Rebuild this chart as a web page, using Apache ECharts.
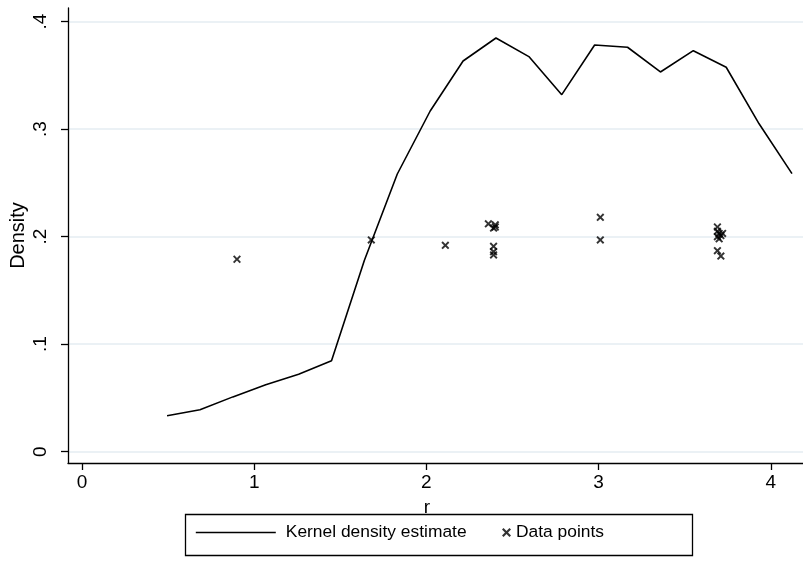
<!DOCTYPE html>
<html>
<head>
<meta charset="utf-8">
<script src="https://cdn.jsdelivr.net/npm/echarts@6/dist/echarts.min.js"></script>
<style>
html,body{margin:0;padding:0;background:#fff;}
#chart{width:803px;height:573px;}
</style>
</head>
<body>
<div id="chart"></div>
<script>
// Kernel density estimate (r, density)
const kdeX = [0.494, 0.685, 0.876, 1.067, 1.258, 1.449, 1.640, 1.831, 2.022, 2.213, 2.404, 2.595, 2.786, 2.977, 3.168, 3.359, 3.550, 3.741, 3.932, 4.123];
const kdeY = [0.0335, 0.0391, 0.051, 0.0623, 0.072, 0.0847, 0.178, 0.2583, 0.3169, 0.3634, 0.3848, 0.3675, 0.3321, 0.3783, 0.3762, 0.3532, 0.3730, 0.3576, 0.305, 0.2586];
// Data points
const pointsX = [0.90, 1.68, 2.11, 2.36, 2.39, 2.40, 2.40, 2.39, 2.39, 2.39, 3.01, 3.01, 3.69, 3.69, 3.70, 3.69, 3.71, 3.70, 3.69, 3.71, 3.72];
const pointsY = [0.179, 0.197, 0.192, 0.212, 0.208, 0.211, 0.209, 0.191, 0.186, 0.183, 0.218, 0.197, 0.209, 0.205, 0.203, 0.200, 0.201, 0.198, 0.187, 0.182, 0.203];
// Ticks
const xTicks = [0, 1, 2, 3, 4];
const xTickLabels = ['0', '1', '2', '3', '4'];
const yTicks = [0, 0.1, 0.2, 0.3, 0.4];
const yTickLabels = ['0', '.1', '.2', '.3', '.4'];
const seriesNames = ['Kernel density estimate', 'Data points'];

const FONT = '"Liberation Sans", Arial, sans-serif';
const xSym = 'path://M0,1.7L1.7,0L5,3.3L8.3,0L10,1.7L6.7,5L10,8.3L8.3,10L5,6.7L1.7,10L0,8.3L3.3,5Z';

const chart = echarts.init(document.getElementById('chart'), null, {renderer: 'canvas'});
chart.setOption({
  backgroundColor: '#ffffff',
  animation: false,
  textStyle: {fontFamily: FONT, color: '#000'},
  grid: {left: 68, top: 8, right: 0, bottom: 110, containLabel: false, outerBoundsMode: 'none'},
  xAxis: {
    type: 'value',
    min: -0.0813, max: 4.187,
    name: 'r', nameLocation: 'middle', nameGap: 35, nameMoveOverlap: false,
    nameTextStyle: {fontFamily: FONT, fontSize: 19, color: '#000', padding: [0, 17, 0, 0]},
    axisLine: {show: true, onZero: false, lineStyle: {color: '#000', width: 1.3}},
    axisTick: {show: true, length: 7, customValues: xTicks, lineStyle: {color: '#000', width: 1.3}},
    axisLabel: {show: true, customValues: xTicks, margin: 10, fontFamily: FONT, fontSize: 19, color: '#000',
      formatter: v => xTickLabels[xTicks.indexOf(v)] ?? ''},
    splitLine: {show: false}
  },
  yAxis: {
    type: 'value',
    min: -0.0105, max: 0.4127,
    name: 'Density', nameLocation: 'middle', nameGap: 40, nameRotate: 90, nameMoveOverlap: false,
    nameTextStyle: {fontFamily: FONT, fontSize: 20, color: '#000'},
    axisLine: {show: true, onZero: false, lineStyle: {color: '#000', width: 1.3}},
    axisTick: {show: true, length: 7, customValues: yTicks, lineStyle: {color: '#000', width: 1.3}},
    axisLabel: {show: true, customValues: yTicks, rotate: 90, margin: 18, fontFamily: FONT, fontSize: 19, color: '#000',
      formatter: v => { const i = yTicks.findIndex(t => Math.abs(t - v) < 1e-9); return i >= 0 ? yTickLabels[i] : ''; }},
    splitLine: {show: true, lineStyle: {color: '#e4ecf2', width: 1.5}}
  },
  legend: [
    {
      data: [{name: seriesNames[0], itemStyle: {opacity: 0}, lineStyle: {color: '#000', width: 1.6, opacity: 1}}],
      left: 195, top: 524, padding: 0,
      itemWidth: 80, itemHeight: 16, itemGap: 0,
      textStyle: {fontFamily: FONT, fontSize: 17.4, color: '#000', padding: [0, 0, 0, 5]},
      selectedMode: false
    },
    {
      data: [{name: seriesNames[1], icon: xSym}],
      left: 502, top: 524, padding: 0,
      itemWidth: 9, itemHeight: 16, itemGap: 0,
      textStyle: {fontFamily: FONT, fontSize: 17.4, color: '#000', padding: [0, 0, 0, 0]},
      selectedMode: false
    }
  ],
  graphic: [{
    type: 'rect', left: 183, top: 512, silent: true,
    shape: {width: 507, height: 41},
    style: {fill: 'none', stroke: '#000', lineWidth: 1.3}
  }],
  series: [
    {
      name: seriesNames[0], type: 'line',
      data: kdeX.map((x, i) => [x, kdeY[i]]),
      symbol: 'none', showSymbol: false,
      lineStyle: {color: '#000', width: 1.6},
      itemStyle: {color: '#000'},
      z: 3
    },
    {
      name: seriesNames[1], type: 'scatter',
      data: pointsX.map((x, i) => [x, pointsY[i]]),
      symbol: xSym, symbolSize: 8,
      itemStyle: {color: '#000'},
      z: 4
    }
  ]
});
</script>
</body>
</html>
